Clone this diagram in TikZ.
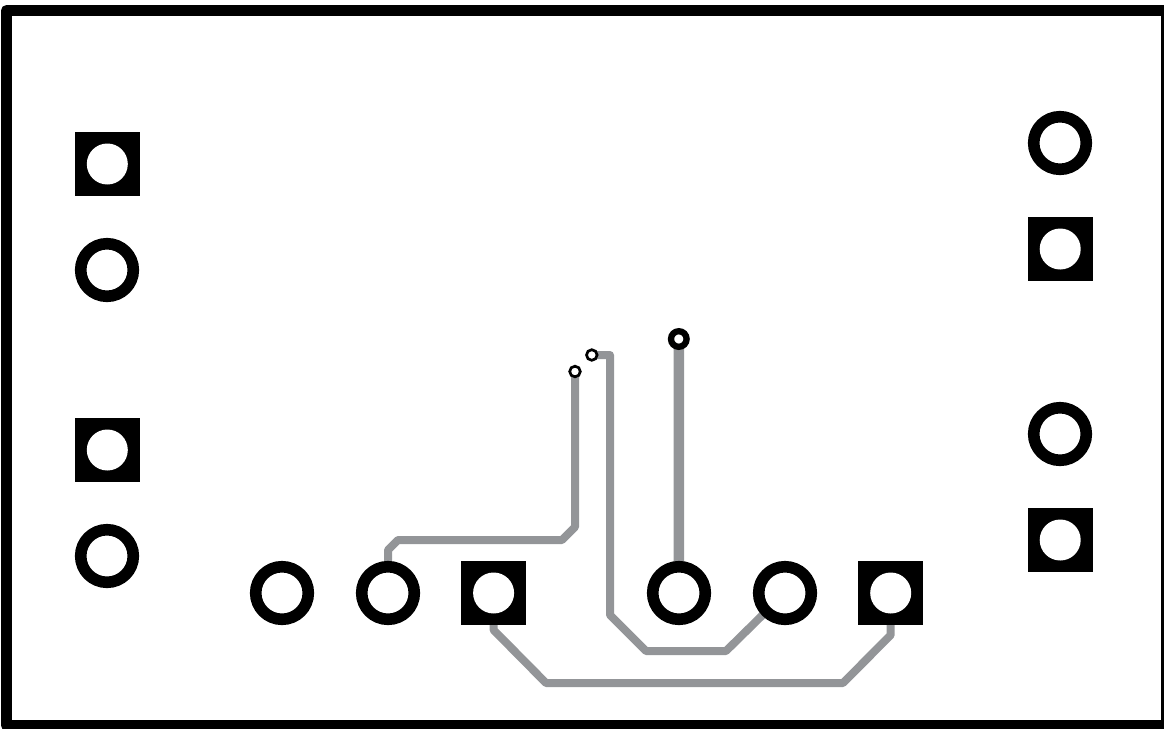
\documentclass[tikz,border=0pt]{standalone}
\usepackage{tikz}
\usetikzlibrary{backgrounds}
\definecolor{tracegray}{HTML}{939598}
\tikzset{
  squarepad/.style={rectangle, fill=black, inner sep=0pt, minimum size=64.8pt},
  drillhole/.style={circle, fill=white, inner sep=0pt, minimum size=41pt},
  roundpad/.style={circle, draw=black, fill=white, line width=11.6pt, inner sep=0pt, minimum size=52.6pt},
  bigvia/.style={circle, draw=black, fill=white, line width=6.3pt, inner sep=0pt, minimum size=15.6pt},
  smallvia/.style={circle, draw=black, fill=white, line width=2.7pt, inner sep=0pt, minimum size=10.6pt},
  trace/.style={draw=tracegray, line width=8pt, line join=round},
  widetrace/.style={draw=tracegray, line width=10.5pt}
}
\begin{document}
\begin{tikzpicture}[x=1pt, y=-1pt]
        \useasboundingbox (0,0) rectangle (1164,728);
        \draw [line width=11pt, line join=round] (6.5,10.5) rectangle (1166.5,725.5);
        % square pads
        \foreach \name/\px/\py in {left1/107.3/164, left3/107.3/450, right2/1060.2/249, right4/1060.2/540, bot3/493.6/593, bot6/890.7/593} {
            \node [squarepad] (\name) at (\px,\py) {};
            \node [drillhole] (\name-hole) at (\name) {};
        }
        % round pads
        \foreach \name/\px/\py in {left2/107/270, left4/107/556, right1/1060/143, right3/1060/434, bot1/282/593, bot2/388/593, bot4/679/593, bot5/785/593} {
            \node [roundpad] (\name) at (\px,\py) {};
        }
        % vias
        \node [bigvia] (viaA) at (678.8,339) {};
        \node [smallvia] (viaB) at (591.8,355) {};
        \node [smallvia] (viaC) at (575,371.5) {};
        % traces
        \begin{scope}[on background layer]
            \draw [trace] (bot2.center) -- (388,550) -- (398,540) -- (562,540) -- (575,527) -- (viaC.center);
            \draw [trace] (viaB.center) -- (610,355) -- (610,615) -- (646,651) -- (726,651) -- (bot5.center);
            \draw [trace] (bot3.center) -- (493.6,630) -- (546,683) -- (843,683) -- (890.7,635) -- (bot6.center);
            \draw [widetrace] (viaA.center) -- (bot4.center);
        \end{scope}
\end{tikzpicture}
\end{document}
